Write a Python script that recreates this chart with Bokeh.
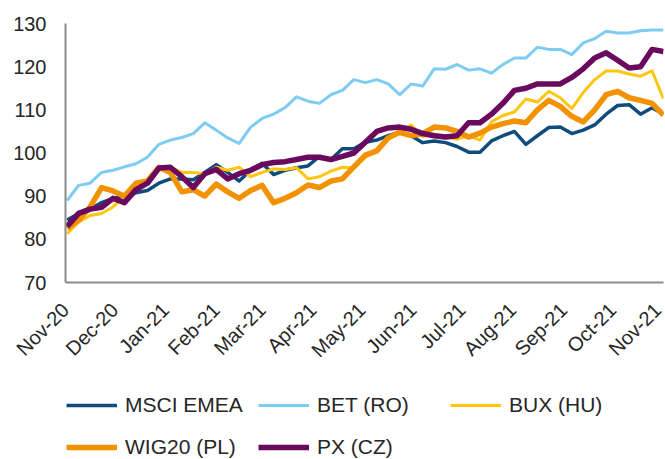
import math
import pandas as pd
from bokeh.plotting import figure
from bokeh.layouts import column
from bokeh.models import FixedTicker, Legend, LegendItem, Range1d
from bokeh.embed import file_html
from bokeh.resources import INLINE

# weekly observations
dates = pd.date_range("2020-11-02", periods=53, freq="7D")
month_ticks = pd.date_range("2020-11-01", periods=13, freq="MS")
month_labels = ["Nov-20", "Dec-20", "Jan-21", "Feb-21", "Mar-21", "Apr-21", "May-21",
                "Jun-21", "Jul-21", "Aug-21", "Sep-21", "Oct-21", "Nov-21"]
y_ticks = [70, 80, 90, 100, 110, 120, 130]

msci = [84.5, 86, 87, 88.5, 89.5, 90, 90.8, 91.3, 93, 94,
        94, 93.8, 95.5, 97.3, 95.5, 93.5, 96, 97.6, 95, 96,
        96.6, 97, 99.2, 98.5, 101, 101, 102.5, 103, 104, 104.8,
        104, 102.4, 102.8, 102.4, 101.5, 100.2, 100.2, 102.8, 104, 105,
        102, 104, 105.9, 106, 104.5, 105.3, 106.5, 109, 111, 111.2,
        109, 110.5, 109]
bet = [89, 92.5, 93, 95.5, 96, 96.8, 97.5, 99, 102, 103,
       103.6, 104.5, 107, 105.3, 103.5, 102.2, 106, 108, 109, 110.5,
       113, 112, 111.5, 113.5, 114.5, 117, 116.3, 117, 116, 113.5,
       116, 115.5, 119.5, 119.4, 120.5, 119.2, 119.5, 118.5, 120.5, 122,
       122, 124.5, 124, 124, 122.8, 125.5, 126.5, 128.2, 127.8, 127.8,
       128.3, 128.5, 128.5]
bux = [81.3, 84, 85.5, 86, 87.5, 90, 91.5, 93, 96, 96.7,
       95.5, 95.5, 95.2, 96.7, 96, 96.7, 94.5, 95.5, 96.3, 96.2,
       96.6, 94, 94.5, 95.8, 96.7, 96.5, 99, 100.5, 103.2, 104.8,
       106.5, 103.8, 104.4, 103.8, 103.2, 104, 103, 107.2, 108.7, 109.5,
       112.5, 111.8, 114.3, 112.8, 110.3, 114, 117, 119, 119, 118.3,
       117.8, 119, 112.6]
wig20 = [82.5, 84.4, 87.5, 92, 91.2, 90, 93, 93.5, 96.7, 95.5,
         91, 91.5, 90, 92.8, 91, 89.5, 91.3, 92.5, 88.5, 89.5,
         90.8, 92.6, 92, 93.5, 94, 96.8, 99.5, 100.5, 103.5, 104.8,
         104, 104.5, 106, 105.8, 105, 103.7, 104.6, 106, 106.8, 107.4,
         107, 110, 112.2, 110.8, 108.5, 107.2, 110, 113.5, 114.3, 112.8,
         112.2, 111.5, 108.8]
px = [83, 86, 87, 87.4, 89.5, 88.5, 91.5, 93, 96.5, 96.7,
      94.5, 92, 95.2, 96.2, 94, 95.2, 96, 97.3, 97.8, 98,
      98.5, 99, 99, 98.5, 99.2, 100, 102.5, 105, 105.8, 106,
      105.5, 104.5, 104, 103.7, 104, 107, 107, 109, 111.5, 114.5,
      115, 116, 116, 116, 117.5, 119.5, 122, 123.2, 121.5, 119.7,
      120, 124, 123.5]

series_names = ["MSCI EMEA", "BET (RO)", "BUX (HU)", "WIG20 (PL)", "PX (CZ)"]
series_values = [msci, bet, bux, wig20, px]
series_colors = ["#0F4C7E", "#7FCCF2", "#FFC511", "#F39200", "#6A0A5E"]
series_widths = [3.5, 3, 3, 5.5, 5.5]

FONT = "Liberation Sans"
TXT = "#262626"


def ms(ts):
    return ts.value // 10**6


tick_ms = [ms(t) for t in month_ticks]

p = figure(width=665, height=390, x_axis_type="datetime",
           output_backend="svg", toolbar_location=None,
           x_range=Range1d(tick_ms[0], tick_ms[-1]),
           y_range=Range1d(70, 130),
           min_border_left=65, min_border_right=2,
           min_border_top=23, min_border_bottom=108)
p.outline_line_color = None
p.xgrid.visible = False
p.ygrid.visible = False

for name, vals, col, w in zip(series_names, series_values, series_colors, series_widths):
    p.line(list(dates), vals, line_color=col, line_width=w, line_join="round")

xa = p.xaxis[0]
xa.ticker = FixedTicker(ticks=tick_ms)
xa.major_label_overrides = {t: lab for t, lab in zip(tick_ms, month_labels)}
xa.major_label_orientation = math.pi / 4
xa.major_label_standoff = 24
xa.major_label_text_font = FONT
xa.major_label_text_font_size = "20px"
xa.major_label_text_color = TXT
xa.axis_line_color = "#8C8C8C"
xa.axis_line_width = 2
xa.major_tick_line_color = None
xa.minor_tick_line_color = None
xa.major_tick_in = 0
xa.major_tick_out = 0

ya = p.yaxis[0]
ya.ticker = FixedTicker(ticks=y_ticks)
ya.major_label_standoff = 19
ya.major_label_text_font = FONT
ya.major_label_text_font_size = "20px"
ya.major_label_text_color = TXT
ya.axis_line_color = "#8C8C8C"
ya.axis_line_width = 2
ya.major_tick_line_color = None
ya.minor_tick_line_color = None
ya.major_tick_in = 0
ya.major_tick_out = 0

# legend strip (legend swatches only; the one-point lines draw nothing)
lg = figure(width=665, height=69, output_backend="svg", toolbar_location=None,
            x_axis_location=None, y_axis_location=None,
            x_range=Range1d(0, 1), y_range=Range1d(0, 1),
            min_border_left=65, min_border_right=2,
            min_border_top=0, min_border_bottom=0)
lg.outline_line_color = None
lg.xgrid.visible = False
lg.ygrid.visible = False
items = []
for name, col, w in zip(series_names, series_colors, series_widths):
    r = lg.line(x=[-1], y=[-1], line_color=col, line_width=w)
    items.append(LegendItem(label=name, renderers=[r]))

legend = Legend(items=items, orientation="horizontal", ncols=3, location=(1, -4),
                padding=0, margin=0, spacing=10,
                glyph_width=51, glyph_height=32,
                label_width=123, label_height=32, label_standoff=8,
                label_text_font=FONT, label_text_font_size="21px",
                label_text_color=TXT,
                border_line_color=None, background_fill_alpha=0)
lg.add_layout(legend, "center")

layout = column(p, lg, spacing=0)
open("out.html", "w").write(file_html(layout, INLINE))
